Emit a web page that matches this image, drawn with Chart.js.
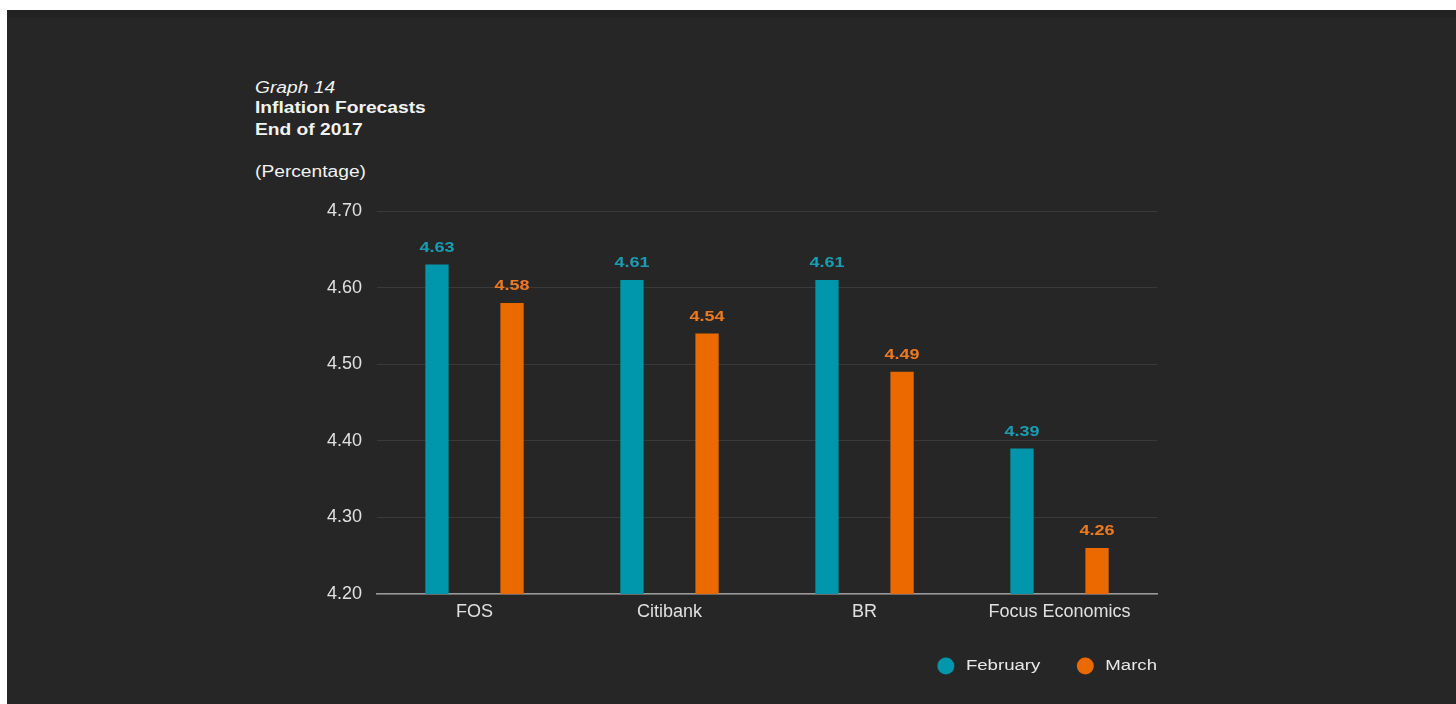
<!DOCTYPE html>
<html><head><meta charset="utf-8">
<script src="https://cdn.jsdelivr.net/npm/chart.js@4/dist/chart.umd.min.js"></script>
<style>
html,body{margin:0;padding:0;background:#fff;width:1456px;height:704px;overflow:hidden;}
#bg{position:absolute;left:7px;top:10px;width:1449px;height:694px;background:#262626;border-top:8px solid #222;box-sizing:border-box;}
#wrap{position:absolute;left:0;top:0;width:1456px;height:704px;}
.t{position:absolute;left:255px;color:#f2f2f2;font-family:"Liberation Sans",Arial,sans-serif;font-size:16px;line-height:18px;white-space:nowrap;transform:scaleX(1.2);transform-origin:0 50%;}
</style></head>
<body>
<div id="bg"></div>
<div class="t" style="top:79px;font-style:italic;">Graph 14</div>
<div class="t" style="top:99px;font-weight:bold;">Inflation Forecasts</div>
<div class="t" style="top:121px;font-weight:bold;">End of 2017</div>
<div class="t" style="top:163px;">(Percentage)</div>
<div id="wrap"><canvas id="c" width="1456" height="704"></canvas></div>
<script>
const categories = ["FOS", "Citibank", "BR", "Focus Economics"];
const february = [4.63, 4.61, 4.61, 4.39];
const march = [4.58, 4.54, 4.49, 4.26];
const yTicks = [4.20, 4.30, 4.40, 4.50, 4.60, 4.70];

const TEAL = "#0096ab";
const ORANGE = "#eb6a00";
const FONT = "'Liberation Sans', Arial, sans-serif";
const SX = 1.2;

function stretchedText(ctx, text, x, y, align) {
  const w = ctx.measureText(text).width * SX;
  let left = x;
  if (align === "center") left = x - w / 2;
  else if (align === "right") left = x - w;
  ctx.save();
  ctx.translate(left, y);
  ctx.scale(SX, 1);
  ctx.textAlign = "left";
  ctx.fillText(text, 0, 0);
  ctx.restore();
  return w;
}

const valueLabels = {
  id: "valueLabels",
  afterDatasetsDraw(chart) {
    const ctx = chart.ctx;
    ctx.save();
    ctx.font = "bold 15px " + FONT;
    ctx.textBaseline = "middle";
    chart.data.datasets.forEach((ds, i) => {
      const meta = chart.getDatasetMeta(i);
      ctx.fillStyle = ds.labelColor;
      meta.data.forEach((bar, j) => {
        stretchedText(ctx, ds.data[j].toFixed(2), bar.x, bar.y - 17, "center");
      });
    });
    ctx.restore();
  }
};

const customLegend = {
  id: "customLegend",
  afterDraw(chart) {
    const ctx = chart.ctx;
    const cy = 666;
    ctx.save();
    ctx.font = "15.5px " + FONT;
    ctx.textBaseline = "middle";
    let right = chart.chartArea.right;
    const sets = chart.data.datasets.slice().reverse();
    sets.forEach((ds) => {
      ctx.fillStyle = "#e8e8e8";
      const w = stretchedText(ctx, ds.label, right, cy, "right");
      const cx = right - w - 20;
      ctx.beginPath();
      ctx.arc(cx, cy, 8.5, 0, Math.PI * 2);
      ctx.fillStyle = ds.backgroundColor;
      ctx.fill();
      right = cx - 45;
    });
    ctx.restore();
  }
};

new Chart(document.getElementById("c"), {
  type: "bar",
  data: {
    labels: categories,
    datasets: [
      { label: "February", data: february, backgroundColor: TEAL, labelColor: "#1a9cb2",
        categoryPercentage: 0.77, barPercentage: 0.31 },
      { label: "March", data: march, backgroundColor: ORANGE, labelColor: "#ec7a20",
        categoryPercentage: 0.77, barPercentage: 0.31 }
    ]
  },
  options: {
    responsive: false,
    animation: false,
    layout: { padding: { left: 0, right: 299, top: 211, bottom: 0 } },
    plugins: {
      tooltip: { enabled: false },
      legend: { display: false }
    },
    scales: {
      x: {
        grid: { display: false, drawTicks: false },
        border: { display: true, color: "#9a9a9a", width: 1.5 },
        ticks: { color: "#e0e0e0", padding: 7, font: { family: FONT, size: 18 } },
        afterFit(s) { s.height = 110; }
      },
      y: {
        min: 4.2, max: 4.7,
        afterBuildTicks(s) { s.ticks = yTicks.map(v => ({ value: v })); },
        grid: { color: "#3a3a3a", lineWidth: 1, drawTicks: false },
        border: { display: false },
        ticks: {
          color: "#e0e0e0", padding: 15, font: { family: FONT, size: 18 },
          callback: v => Number(v).toFixed(2)
        },
        afterFit(s) { s.width = 377; }
      }
    }
  },
  plugins: [valueLabels, customLegend]
});
</script>
</body></html>
